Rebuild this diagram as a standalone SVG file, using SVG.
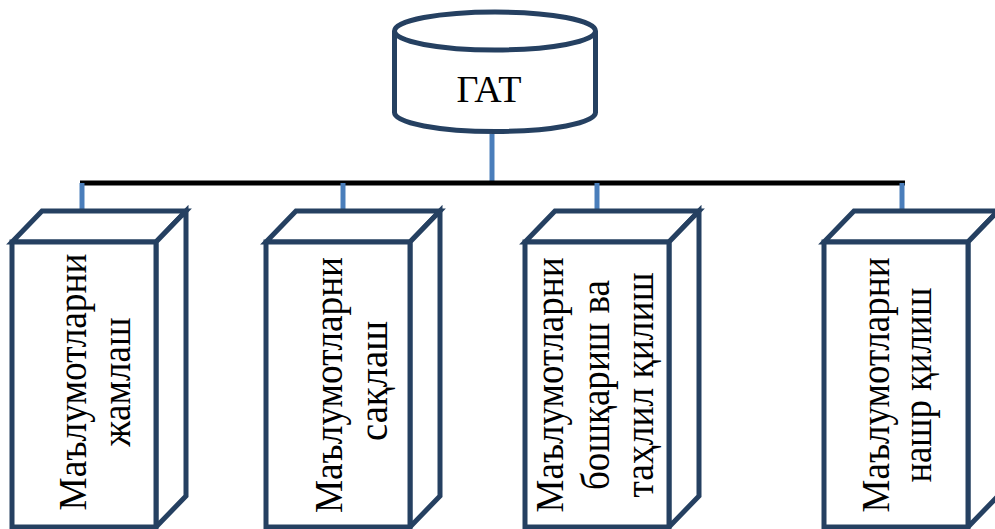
<svg xmlns="http://www.w3.org/2000/svg" width="995" height="529" viewBox="0 0 995 529">
  <style>
    .edge { fill: #ffffff; stroke: #254061; stroke-width: 5; stroke-linejoin: miter; }
    .stub { stroke: #4A7EBB; stroke-width: 5; fill: none; }
    .bus { stroke: #000000; stroke-width: 5; fill: none; }
    .label { font-family: "Liberation Serif", "DejaVu Serif", serif; font-size: 39px; fill: #000000; text-anchor: middle; }
    .title { font-family: "Liberation Serif", "DejaVu Serif", serif; font-size: 38px; fill: #000000; text-anchor: middle; }
  </style>
  <rect width="995" height="529" fill="#ffffff"/>

  <!-- connectors -->
  <g id="connectors">
    <line class="stub" x1="492" y1="134" x2="492" y2="183"/>
    <line class="bus" x1="80" y1="183" x2="905" y2="183"/>
    <line class="stub" x1="82" y1="183" x2="82" y2="230"/>
    <line class="stub" x1="343" y1="183" x2="343" y2="230"/>
    <line class="stub" x1="597" y1="183" x2="597" y2="230"/>
    <line class="stub" x1="902" y1="183" x2="902" y2="230"/>
  </g>

  <!-- database cylinder -->
  <g id="gat">
    <path class="edge" d="M394.5,31 L394.5,112.5 A100.5,19 0 0 0 595.5,112.5 L595.5,31"/>
    <ellipse class="edge" cx="495" cy="31" rx="100.5" ry="19"/>
    <text class="title" x="489" y="102">ГАТ</text>
  </g>

  <!-- cube 1 -->
  <g id="box1">
    <polygon class="edge" points="12,242 42,211 186,211 156,242"/>
    <polygon class="edge" points="156,242 186,211 186,496 156,527"/>
    <rect class="edge" x="12" y="242" width="144" height="285"/>
    <text class="label" transform="translate(86,382) rotate(-90)" textLength="257" lengthAdjust="spacingAndGlyphs">Маълумотларни</text>
    <text class="label" transform="translate(130,382) rotate(-90)" textLength="129" lengthAdjust="spacingAndGlyphs">жамлаш</text>
  </g>

  <!-- cube 2 -->
  <g id="box2">
    <polygon class="edge" points="266,242 296,211 440,211 410,242"/>
    <polygon class="edge" points="410,242 440,211 440,496 410,527"/>
    <rect class="edge" x="266" y="242" width="144" height="285"/>
    <text class="label" transform="translate(342,385) rotate(-90)" textLength="256" lengthAdjust="spacingAndGlyphs">Маълумотларни</text>
    <text class="label" transform="translate(387,381) rotate(-90)" textLength="120" lengthAdjust="spacingAndGlyphs">сақлаш</text>
  </g>

  <!-- cube 3 -->
  <g id="box3">
    <polygon class="edge" points="525,242 555,211 699,211 669,242"/>
    <polygon class="edge" points="669,242 699,211 699,496 669,527"/>
    <rect class="edge" x="525" y="242" width="144" height="285"/>
    <text class="label" transform="translate(563,385) rotate(-90)" textLength="255" lengthAdjust="spacingAndGlyphs">Маълумотларни</text>
    <text class="label" transform="translate(609,385) rotate(-90)" textLength="210" lengthAdjust="spacingAndGlyphs">бошқариш ва</text>
    <text class="label" transform="translate(653,385) rotate(-90)" textLength="225" lengthAdjust="spacingAndGlyphs">таҳлил қилиш</text>
  </g>

  <!-- cube 4 -->
  <g id="box4">
    <polygon class="edge" points="824,242 854,211 998,211 968,242"/>
    <polygon class="edge" points="968,242 998,211 998,496 968,527"/>
    <rect class="edge" x="824" y="242" width="144" height="285"/>
    <text class="label" transform="translate(889,385) rotate(-90)" textLength="255" lengthAdjust="spacingAndGlyphs">Маълумотларни</text>
    <text class="label" transform="translate(931,385) rotate(-90)" textLength="195" lengthAdjust="spacingAndGlyphs">нашр қилиш</text>
  </g>
</svg>
